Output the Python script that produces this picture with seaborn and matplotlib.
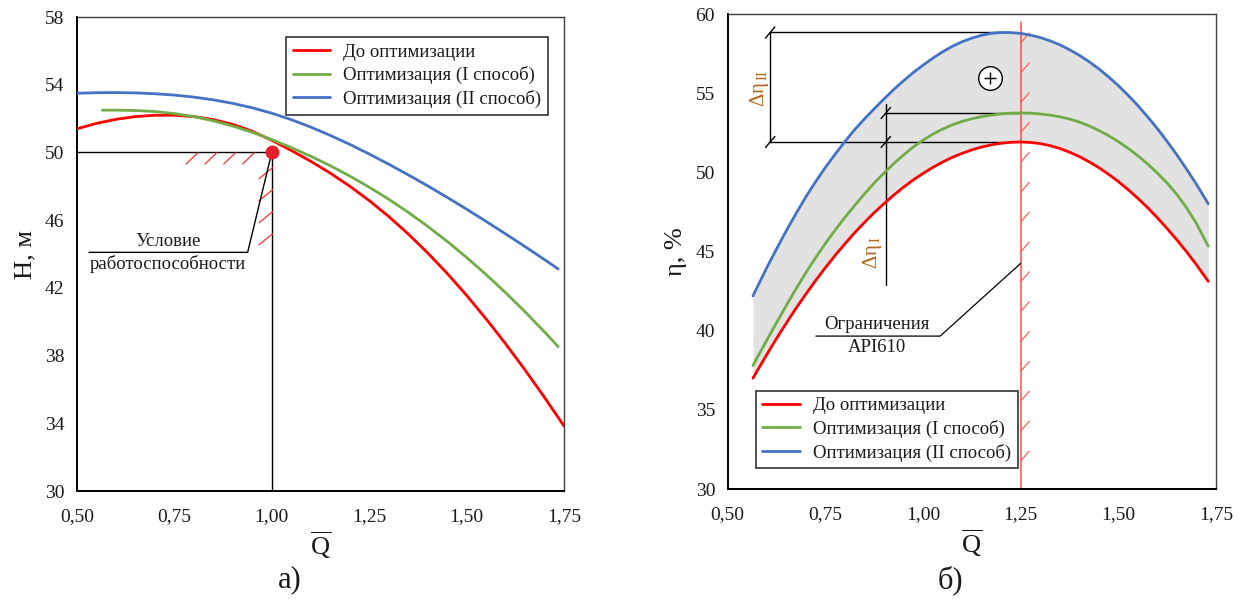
import numpy as np
import pandas as pd
import matplotlib
matplotlib.use("Agg")
import matplotlib.pyplot as plt
import seaborn as sns

# ---------------- data: left panel (H vs Q) ----------------
q_left = [0.50, 0.55, 0.60, 0.65, 0.70, 0.75, 0.80, 0.85, 0.90, 0.95, 1.00, 1.05, 1.10,
          1.15, 1.20, 1.25, 1.30, 1.35, 1.40, 1.45, 1.50, 1.55, 1.60, 1.65, 1.70, 1.75]
h_before = [51.40, 51.72, 51.96, 52.12, 52.20, 52.20, 52.12, 51.94, 51.66, 51.25, 50.72,
            50.12, 49.48, 48.78, 48.01, 47.16, 46.22, 45.19, 44.07, 42.86, 41.56, 40.17,
            38.70, 37.15, 35.53, 33.84]
q_left_g = [0.565, 0.60, 0.65, 0.70, 0.75, 0.80, 0.85, 0.90, 0.95, 1.00, 1.05, 1.10, 1.15,
            1.20, 1.25, 1.30, 1.35, 1.40, 1.45, 1.50, 1.55, 1.60, 1.65, 1.70, 1.735]
h_opt1 = [52.50, 52.50, 52.48, 52.42, 52.30, 52.12, 51.87, 51.56, 51.19, 50.76, 50.29,
          49.78, 49.22, 48.61, 47.95, 47.24, 46.47, 45.64, 44.75, 43.80, 42.79, 41.72,
          40.59, 39.40, 38.53]
q_left_b = [0.50, 0.55, 0.60, 0.65, 0.70, 0.75, 0.80, 0.85, 0.90, 0.95, 1.00, 1.05, 1.10,
            1.15, 1.20, 1.25, 1.30, 1.35, 1.40, 1.45, 1.50, 1.55, 1.60, 1.65, 1.70, 1.735]
h_opt2 = [53.50, 53.53, 53.54, 53.52, 53.47, 53.39, 53.27, 53.11, 52.90, 52.64, 52.32,
          51.94, 51.50, 51.01, 50.48, 49.91, 49.31, 48.68, 48.03, 47.35, 46.65, 45.93,
          45.19, 44.44, 43.67, 43.12]
q_req, h_req = 1.00, 50.0

# ---------------- data: right panel (eta vs Q) ----------------
q_right = [0.565, 0.575, 0.600, 0.625, 0.650, 0.675, 0.700, 0.725, 0.750, 0.775, 0.800,
           0.825, 0.850, 0.875, 0.900, 0.925, 0.950, 0.975, 1.000, 1.025, 1.050, 1.075,
           1.100, 1.125, 1.150, 1.175, 1.200, 1.225, 1.250, 1.275, 1.300, 1.325, 1.350,
           1.375, 1.400, 1.425, 1.450, 1.475, 1.500, 1.525, 1.550, 1.575, 1.600, 1.625,
           1.650, 1.675, 1.700, 1.730]
eta_before = [37.00, 37.43, 38.48, 39.50, 40.47, 41.41, 42.30, 43.16, 43.97, 44.75, 45.48,
              46.18, 46.83, 47.45, 48.02, 48.56, 49.06, 49.52, 49.93, 50.31, 50.65, 50.95,
              51.20, 51.42, 51.60, 51.74, 51.84, 51.90, 51.92, 51.89, 51.82, 51.69, 51.51,
              51.28, 51.00, 50.67, 50.30, 49.88, 49.42, 48.91, 48.36, 47.77, 47.13, 46.44,
              45.73, 44.97, 44.16, 43.12]
eta_opt1 = [37.80, 38.26, 39.38, 40.49, 41.58, 42.64, 43.65, 44.60, 45.50, 46.35, 47.15,
            47.90, 48.63, 49.32, 49.95, 50.55, 51.09, 51.60, 52.03, 52.41, 52.73, 53.00,
            53.22, 53.39, 53.52, 53.62, 53.69, 53.74, 53.75, 53.74, 53.69, 53.62, 53.51,
            53.37, 53.18, 52.94, 52.65, 52.32, 51.94, 51.52, 51.05, 50.53, 49.95, 49.32,
            48.60, 47.75, 46.76, 45.34]
eta_opt2 = [42.20, 42.71, 43.96, 45.15, 46.30, 47.39, 48.44, 49.40, 50.30, 51.14, 51.94,
            52.69, 53.37, 54.01, 54.63, 55.23, 55.78, 56.30, 56.77, 57.21, 57.61, 57.96,
            58.25, 58.48, 58.66, 58.78, 58.835, 58.83, 58.78, 58.67, 58.52, 58.31, 58.06,
            57.75, 57.40, 56.99, 56.54, 56.03, 55.48, 54.87, 54.22, 53.51, 52.76, 51.95,
            51.10, 50.19, 49.24, 48.02]
q_api = 1.25

labels = ["До оптимизации", "Оптимизация (I способ)", "Оптимизация (II способ)"]
colors = ["#ff0000", "#70ad47", "#4472c4"]
xticks = [0.50, 0.75, 1.00, 1.25, 1.50, 1.75]
xtick_labels = ["0,50", "0,75", "1,00", "1,25", "1,50", "1,75"]
yticks_left = [30, 34, 38, 42, 46, 50, 54, 58]
yticks_right = [30, 35, 40, 45, 50, 55, 60]

# ---------------- style ----------------
sns.set_theme(style="white")
plt.rcParams["font.family"] = ["Liberation Serif", "DejaVu Serif"]
plt.rcParams["mathtext.fontset"] = "custom"
plt.rcParams["mathtext.rm"] = "Liberation Serif"
plt.rcParams["mathtext.it"] = "Liberation Serif:italic"

fig = plt.figure(figsize=(12.42, 6.03), dpi=100)
axL = fig.add_axes([0.062, 0.1857, 0.3921, 0.786])
axR = fig.add_axes([0.5858, 0.189, 0.3933, 0.7877])

TXT = "#1a1a1a"

def style_axes(ax, yticks):
    for s in ["left", "bottom"]:
        ax.spines[s].set_color("black")
        ax.spines[s].set_linewidth(1.4)
    for s in ["top", "right"]:
        ax.spines[s].set_color("#404040")
        ax.spines[s].set_linewidth(1.0)
    ax.set_xlim(0.5, 1.75)
    ax.set_xticks(xticks)
    ax.set_xticklabels(xtick_labels)
    ax.set_yticks(yticks)
    ax.set_ylim(yticks[0], yticks[-1])
    ax.tick_params(axis="x", direction="in", length=6, width=1, labelsize=14,
                   pad=12, colors=TXT)
    ax.tick_params(axis="y", direction="out", length=5, width=1, labelsize=14,
                   pad=4, colors=TXT)
    ax.set_xlabel(r"$\overline{\mathrm{Q}}$", fontsize=19, labelpad=3, color=TXT)

def add_legend(ax, **kw):
    leg = ax.legend(borderaxespad=0, fontsize=13.5, frameon=True, fancybox=False,
                    edgecolor="black", handlelength=2.0, handletextpad=0.7,
                    borderpad=0.35, labelspacing=0.3, **kw)
    leg.get_frame().set_linewidth(1.2)
    leg.set_zorder(6)
    for t in leg.get_texts():
        t.set_color(TXT)
    return leg

# ---------------- left panel ----------------
ax = axL
ax.plot([0.5, q_req], [h_req, h_req], color="black", lw=1.0, zorder=2)
ax.plot([q_req, q_req], [30, h_req], color="black", lw=1.0, zorder=2)
for qx in np.linspace(0.81, 0.955, 4):
    ax.plot([qx - 0.03, qx], [h_req - 0.68, h_req - 0.02], color="#ff3030", lw=0.9, zorder=2)
for hy in np.linspace(49.1, 45.2, 4):
    ax.plot([q_req - 0.033, q_req + 0.002], [hy - 0.65, hy], color="#ff3030", lw=0.9, zorder=2)
ax.plot([q_req, 0.938, 0.531], [h_req, 44.1, 44.1], color="black", lw=1.0, zorder=2)
ax.text(0.733, 44.25, "Условие", ha="center", va="bottom", fontsize=13.5, color=TXT)
ax.text(0.733, 43.95, "работоспособности", ha="center", va="top", fontsize=13.5, color=TXT)

sns.lineplot(x=q_left, y=h_before, color=colors[0], lw=2.0, label=labels[0], ax=ax,
             estimator=None, zorder=3)
sns.lineplot(x=q_left_g, y=h_opt1, color=colors[1], lw=2.0, label=labels[1], ax=ax,
             estimator=None, zorder=3)
sns.lineplot(x=q_left_b, y=h_opt2, color=colors[2], lw=2.0, label=labels[2], ax=ax,
             estimator=None, zorder=3)
ax.plot([q_req], [h_req], "o", color="#e8202a", ms=9, zorder=4, clip_on=False)

style_axes(ax, yticks_left)
ax.set_ylabel("H, м", fontsize=19, color=TXT, labelpad=6)
add_legend(ax, loc="upper right", bbox_to_anchor=(0.967, 0.958))

# ---------------- right panel ----------------
ax = axR
ax.fill_between(q_right, eta_before, eta_opt2, color="#e2e2e2", lw=0, zorder=1)

eta_r_max = max(eta_before)
eta_g_max = max(eta_opt1)
eta_b_max = max(eta_opt2)
q_b_max = q_right[int(np.argmax(eta_opt2))]
q_r_max = q_right[int(np.argmax(eta_before))]
x_d2 = 0.609
x_d1 = 0.905

ax.plot([x_d2, q_b_max], [eta_b_max, eta_b_max], color="black", lw=1.0, zorder=2)
ax.plot([x_d2, q_r_max - 0.03], [eta_r_max, eta_r_max], color="black", lw=1.0, zorder=2)
ax.plot([x_d2, x_d2], [eta_r_max, eta_b_max], color="black", lw=1.0, zorder=2)
ax.plot([x_d1, q_api], [eta_g_max, eta_g_max], color="black", lw=1.0, zorder=2)
ax.plot([x_d1, x_d1], [42.9, eta_g_max + 0.55], color="black", lw=1.0, zorder=2)
for (xx, yy) in [(x_d2, eta_b_max), (x_d2, eta_r_max), (x_d1, eta_g_max), (x_d1, eta_r_max)]:
    ax.plot([xx - 0.012, xx + 0.012], [yy - 0.35, yy + 0.35], color="black", lw=1.0, zorder=2)

ax.text(0.582, 55.3, r"$\mathrm{Δη}_{\,\mathrm{II}}$", rotation=90, ha="center", va="center",
        fontsize=15, color="#b5651d")
ax.text(0.871, 44.9, r"$\mathrm{Δη}_{\,\mathrm{I}}$", rotation=90, ha="center", va="center",
        fontsize=15, color="#b5651d")

ax.plot([1.171], [55.95], "o", ms=17, mfc="white", mec="black", mew=1.0, zorder=4)
ax.plot([1.171], [55.95], "+", ms=9, color="black", mew=1.0, zorder=5)

ax.plot([q_api, q_api], [30, 59.5], color="#ff4a4a", lw=1.1, zorder=2)
for hy in np.linspace(32.4, 58.8, 15):
    ax.plot([q_api, q_api + 0.022], [hy - 0.62, hy], color="#ff6060", lw=0.9, zorder=2)
ax.plot([q_api, 1.044, 0.726], [44.25, 39.66, 39.66], color="black", lw=0.9, zorder=2)
ax.text(0.883, 39.85, "Ограничения", ha="center", va="bottom", fontsize=13.5, color=TXT)
ax.text(0.883, 39.45, "API610", ha="center", va="top", fontsize=13.5, color=TXT)

sns.lineplot(x=q_right, y=eta_before, color=colors[0], lw=2.0, label=labels[0], ax=ax,
             estimator=None, zorder=3)
sns.lineplot(x=q_right, y=eta_opt1, color=colors[1], lw=2.0, label=labels[1], ax=ax,
             estimator=None, zorder=3)
sns.lineplot(x=q_right, y=eta_opt2, color=colors[2], lw=2.0, label=labels[2], ax=ax,
             estimator=None, zorder=3)

style_axes(ax, yticks_right)
ax.set_ylabel("η, %", fontsize=19, color=TXT, labelpad=6)
add_legend(ax, loc="lower left", bbox_to_anchor=(0.058, 0.044))

fig.text(0.233, 0.038, "а)", ha="center", va="center", fontsize=22, color=TXT)
fig.text(0.765, 0.038, "б)", ha="center", va="center", fontsize=22, color=TXT)

fig.savefig("out.png", dpi=100)
